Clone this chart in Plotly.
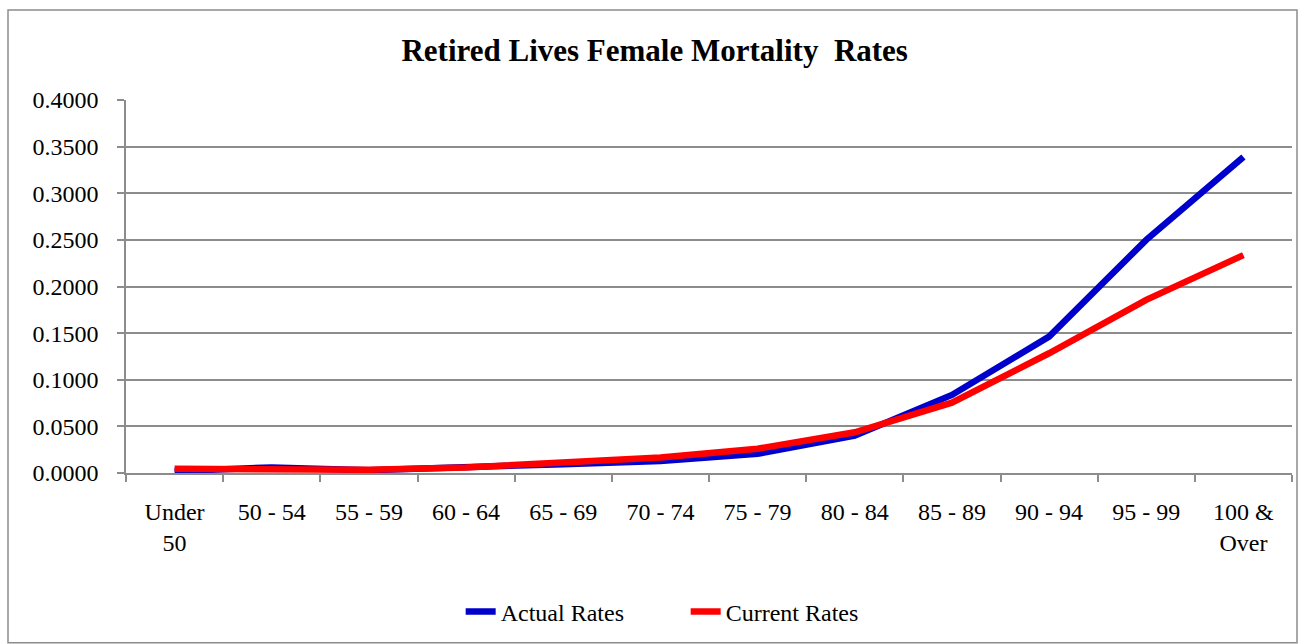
"""
Retired lives female mortality rates: actual vs current table, by age band.
"""
import plotly.graph_objects as go

age_bands = ['Under<br>50', '50 - 54', '55 - 59', '60 - 64', '65 - 69', '70 - 74',
             '75 - 79', '80 - 84', '85 - 89', '90 - 94', '95 - 99', '100 &<br>Over']
actual_rates = [0.0020, 0.0060, 0.0030, 0.0055, 0.0095, 0.0130,
                0.0205, 0.0400, 0.0837, 0.1463, 0.2500, 0.3388]
current_rates = [0.0045, 0.0040, 0.0035, 0.0060, 0.0105, 0.0165,
                 0.0260, 0.0437, 0.0755, 0.1284, 0.1857, 0.2336]
y_ticks = [0.0, 0.05, 0.10, 0.15, 0.20, 0.25, 0.30, 0.35, 0.40]

FONT = 'Liberation Serif'
GRID = '#8c8c8c'


def build_figure():
    fig = go.Figure()
    fig.add_trace(go.Scatter(x=age_bands, y=actual_rates, mode='lines',
                             name='Actual Rates',
                             line=dict(color='#0000CC', width=6.5)))
    fig.add_trace(go.Scatter(x=age_bands, y=current_rates, mode='lines',
                             name='Current Rates',
                             line=dict(color='#FF0000', width=6.5)))

    fig.update_layout(
        width=1299, height=644,
        margin=dict(l=126, r=7, t=100, b=171, autoexpand=False),
        paper_bgcolor='white', plot_bgcolor='white',
        font=dict(family=FONT, size=24, color='black'),
        title=dict(text='<b>Retired Lives Female Mortality  Rates</b>',
                   x=0.504, xanchor='center', y=0.922, yanchor='middle',
                   font=dict(family=FONT, size=31, color='black')),
        legend=dict(orientation='h', x=0.48, xanchor='center',
                    y=-0.3727, yanchor='middle', entrywidth=180,
                    font=dict(family=FONT, size=24)),
        showlegend=True,
    )
    fig.update_xaxes(type='category', range=[-0.5, 11.5],
                     tickson='boundaries', ticks='outside',
                     ticklen=7, tickcolor=GRID, tickwidth=1.5,
                     showline=True, linecolor=GRID, linewidth=1.5,
                     showgrid=False, ticklabelstandoff=16,
                     tickfont=dict(family=FONT, size=24))
    fig.update_yaxes(range=[0, 0.4], tickvals=y_ticks, tickformat='.4f',
                     ticks='outside', ticklen=7, tickcolor=GRID, tickwidth=1.5,
                     showline=True, linecolor=GRID, linewidth=1.5,
                     showgrid=True, gridcolor=GRID, gridwidth=1.5,
                     zeroline=False, ticklabelstandoff=14,
                     tickfont=dict(family=FONT, size=24))

    # outer chart border
    fig.add_shape(type='rect', xref='paper', yref='paper',
                  x0=-0.1012, x1=1.0043, y0=-0.455, y1=1.2413,
                  line=dict(color=GRID, width=1.5), fillcolor='rgba(0,0,0,0)')
    return fig


def main():
    fig = build_figure()
    # drop the browser's default body margin so the figure sits at the page origin
    fig.write_html('out.html', config={'displayModeBar': False},
                   post_script="document.body.style.margin='0';")


if __name__ == '__main__':
    main()
